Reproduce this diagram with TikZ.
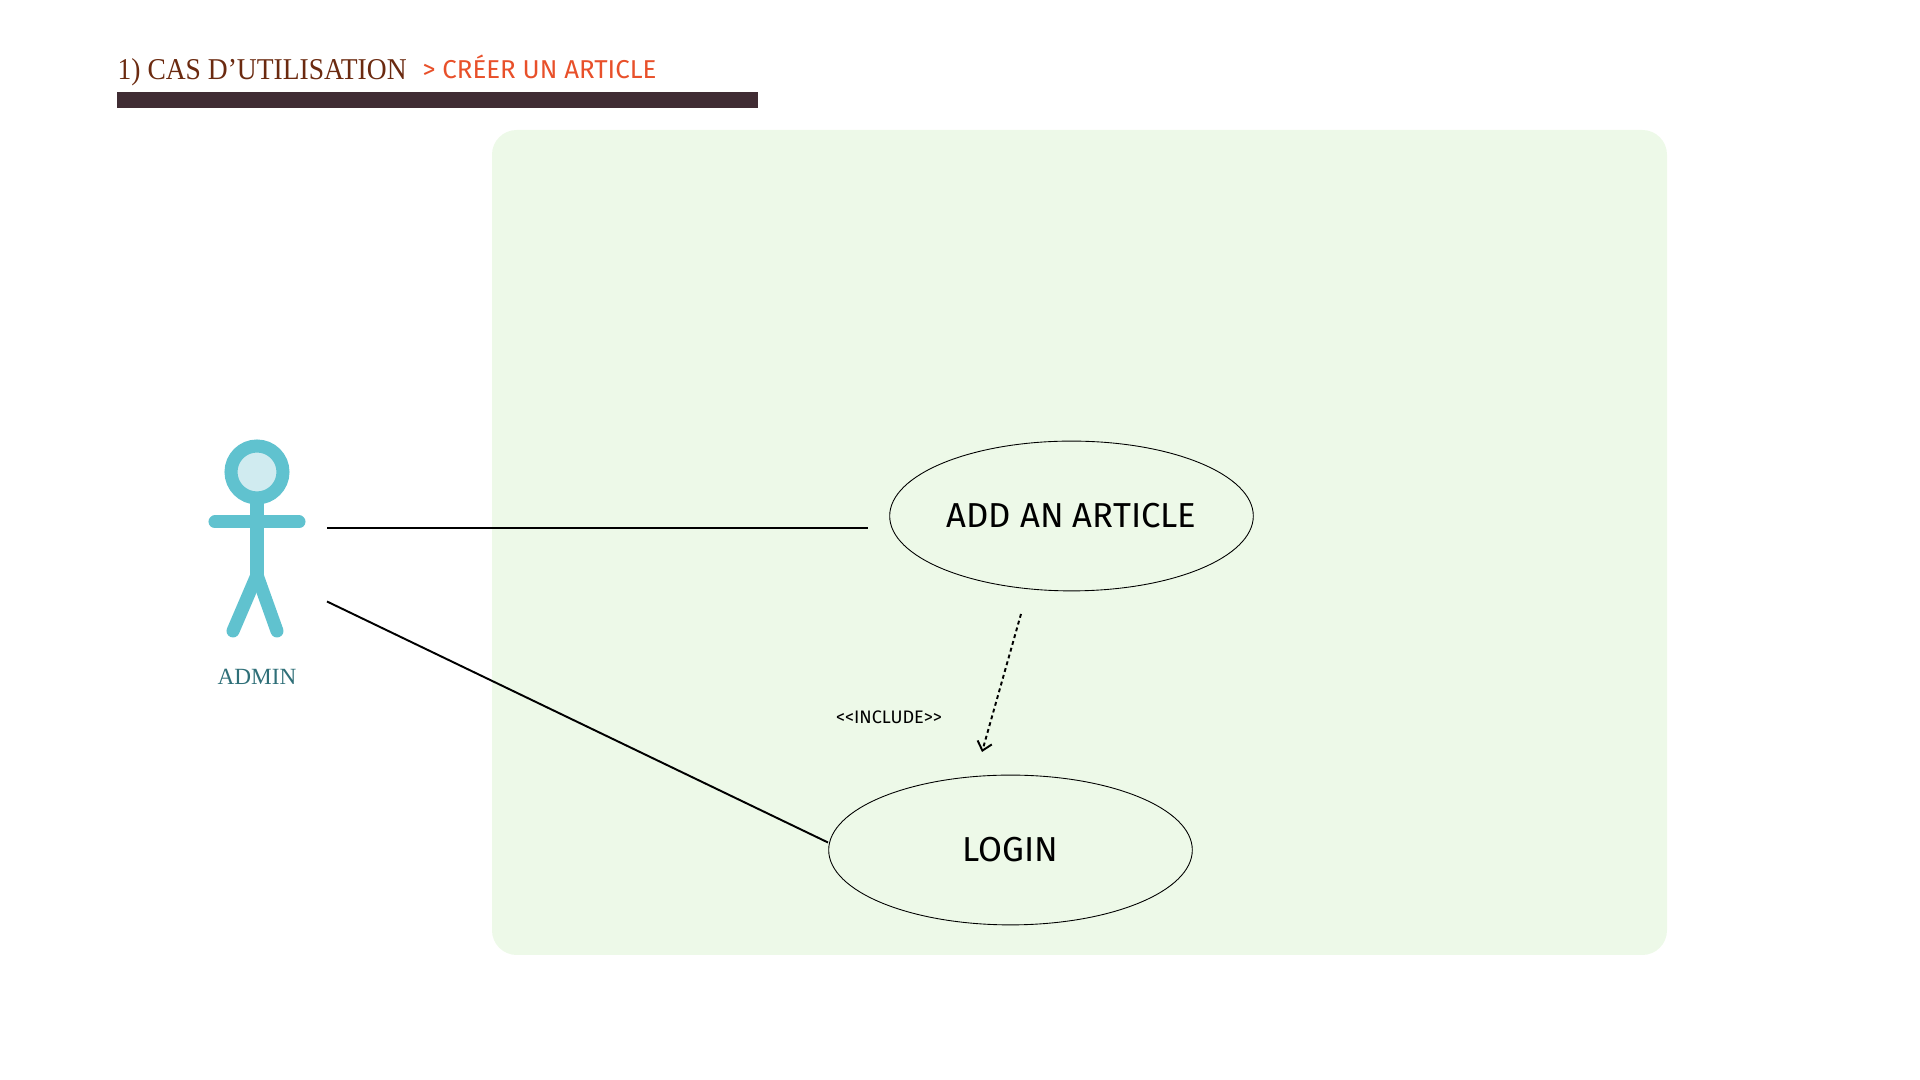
\documentclass[tikz,border=0pt]{standalone}
\usepackage{fontspec}
\setmainfont{Liberation Serif}
\setsansfont{Fira Sans}
\usetikzlibrary{arrows.meta,shapes.geometric}
\definecolor{panelgreen}{HTML}{EDF9E8}
\definecolor{barbrown}{HTML}{402C33}
\definecolor{titlebrown}{HTML}{6B2A10}
\definecolor{suborange}{HTML}{E8502A}
\definecolor{actorblue}{HTML}{60C2CF}
\definecolor{headblue}{HTML}{D0EBF0}
\definecolor{admingreen}{HTML}{2F6F78}
\tikzset{
  usecase/.style={draw=black,ellipse,line width=0.25pt,minimum width=103.4pt,minimum height=42.6pt,inner sep=0pt,font=\sffamily\fontsize{9.85}{11}\selectfont},
  limb/.style={actorblue,line width=3.7pt,line cap=round},
  assoc/.style={line width=0.55pt}
}
\begin{document}
\begin{tikzpicture}[x=0.01cm,y=-0.01cm]
        \useasboundingbox (0,0) rectangle (1920,1080);
        % Title and bar
        \node[anchor=base west,inner sep=0pt,text=titlebrown,font=\fontsize{8.6}{10}\selectfont] (title) at (117,80) {\scalebox{0.91}[1]{1) CAS D’UTILISATION}};
        \node[anchor=base west,inner sep=0pt,text=suborange,font=\sffamily\fontsize{7.35}{8}\selectfont] (subtitle) at (422,79) {> CRÉER UN ARTICLE};
        \fill[barbrown] (117,92) rectangle (758,108);
        % Panel
        \fill[panelgreen,rounded corners=7pt] (492,130) rectangle (1667,955);
        % Actor
        \draw[limb,line cap=butt] (257,495) -- (257,575);
        \draw[limb] (215,522) -- (299,522);
        \draw[limb] (257,575) -- (233,631);
        \draw[limb] (257,575) -- (277,631);
        \draw[actorblue,fill=headblue,line width=3.7pt] (257,472) circle (26);
        \node[inner sep=0pt,text=admingreen,font=\fontsize{6.6}{8}\selectfont] (admin) at (257,677) {ADMIN};
        % Use cases
        \node[usecase] (article) at (1071.5,516) {\raisebox{-0.7pt}{ADD AN ARTICLE}};
        \node[usecase] (login) at (1010.5,850) {LOGIN};
        \node[inner sep=0pt,font=\sffamily\fontsize{5.15}{6}\selectfont] (include) at (889,717) {<{}<INCLUDE>{}>};
        % Connector ends
        \coordinate (armend) at (327,528);
        \coordinate (articleend) at (868,528);
        \coordinate (legend) at (327,601.5);
        \coordinate (loginend) at (828,842.5);
        \coordinate (dotstart) at (1021,614);
        \coordinate (dotend) at (982,752);
        % Connectors
        \draw[assoc] (armend) -- (articleend);
        \draw[assoc] (legend) -- (loginend);
        \draw[assoc,dash pattern=on 1.1pt off 0.9pt,-{Straight Barb[length=2.4pt,width=4.2pt]}] (dotstart) -- (dotend);
\end{tikzpicture}
\end{document}
